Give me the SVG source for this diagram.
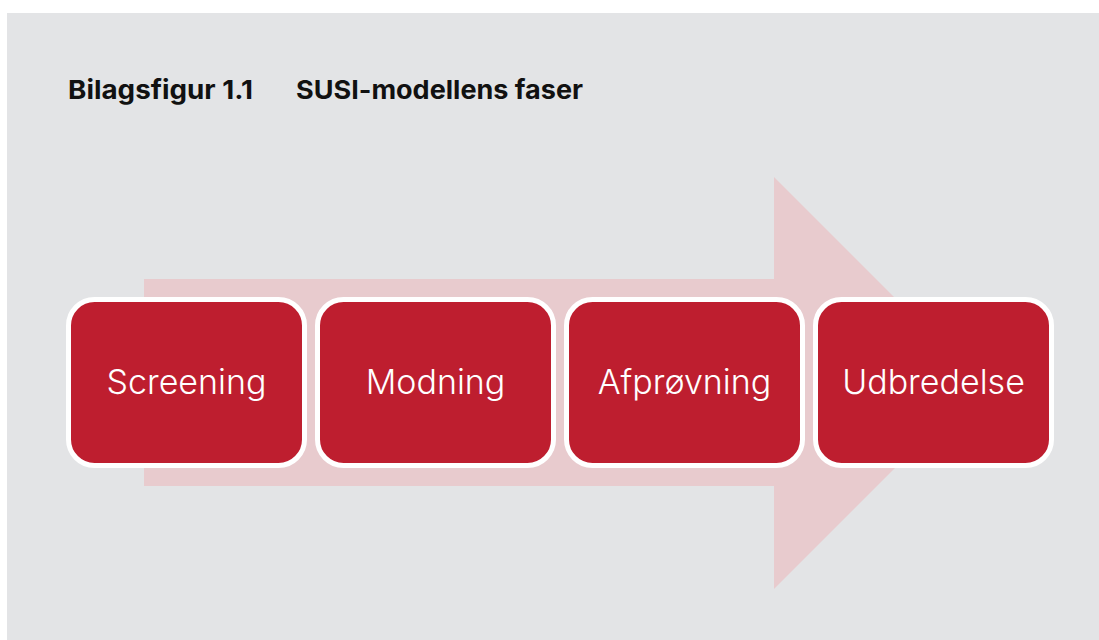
<svg xmlns="http://www.w3.org/2000/svg" width="1099" height="640" viewBox="0 0 1099 640">
<style>
.box{fill:#be1e2f;stroke:#ffffff;stroke-width:5}
.lbl{font-family:Inter,"Noto Sans",sans-serif;font-size:34px;font-weight:300;fill:#ffffff;text-anchor:middle}
.ttl{font-family:Inter,"Liberation Sans",sans-serif;font-size:26px;font-weight:bold;fill:#111111}
</style>
<rect x="0" y="0" width="1099" height="640" fill="#ffffff"/>
<rect x="7" y="13" width="1092" height="627" fill="#e3e4e6"/>
<text class="ttl" x="68" y="99" textLength="185" lengthAdjust="spacingAndGlyphs">Bilagsfigur 1.1</text>
<text class="ttl" x="296" y="99" textLength="287" lengthAdjust="spacingAndGlyphs">SUSI-modellens faser</text>
<g id="arrow">
<polygon points="144,279 774,279 774,177 980,383 774,589 774,486 144,486" fill="#e8cbce"/>
</g>
<g id="connectors"></g>
<g id="screening">
<rect class="box" x="68.5" y="299.5" width="236" height="166" rx="26"/>
<text class="lbl" x="186.5" y="394">Screening</text>
</g>
<g id="modning">
<rect class="box" x="317.5" y="299.5" width="236" height="166" rx="26"/>
<text class="lbl" x="435.5" y="394">Modning</text>
</g>
<g id="afproevning">
<rect class="box" x="566.5" y="299.5" width="236" height="166" rx="26"/>
<text class="lbl" x="684.5" y="394">Afprøvning</text>
</g>
<g id="udbredelse">
<rect class="box" x="815.5" y="299.5" width="236" height="166" rx="26"/>
<text class="lbl" x="933.5" y="394">Udbredelse</text>
</g>
</svg>
